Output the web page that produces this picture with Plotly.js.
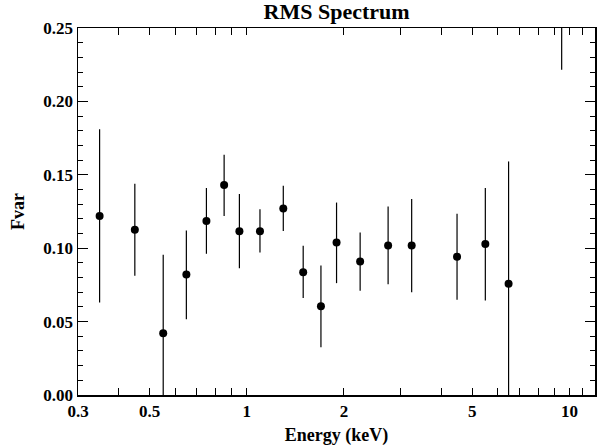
<!DOCTYPE html>
<html>
<head>
<meta charset="utf-8">
<script src="https://cdn.plot.ly/plotly-3.0.1.min.js"></script>
<style>html,body{margin:0;padding:0;background:#fff;}#chart{width:601px;height:446px;}</style>
</head>
<body>
<div id="chart"></div>
<script>
const energy = [0.35, 0.45, 0.551, 0.65, 0.75, 0.851, 0.949, 1.099, 1.298, 1.496, 1.698, 1.898, 2.246, 2.742, 3.244, 4.484, 5.487, 6.477, 9.46];
const fvar = [0.122, 0.1125, 0.042, 0.082, 0.1185, 0.143, 0.1116, 0.1116, 0.127, 0.0837, 0.0605, 0.1039, 0.0909, 0.1019, 0.1019, 0.0941, 0.1028, 0.0757, 0.30];
const errUp = [0.059, 0.0314, 0.0535, 0.030, 0.0225, 0.0207, 0.0254, 0.015, 0.0155, 0.0179, 0.0277, 0.0272, 0.0198, 0.0265, 0.0316, 0.0293, 0.0382, 0.0834, 0.08];
const errDown = [0.059, 0.0313, 0.0535, 0.0304, 0.0223, 0.021, 0.0252, 0.0146, 0.0152, 0.0177, 0.028, 0.0277, 0.0198, 0.0264, 0.0319, 0.0293, 0.0385, 0.0834, 0.0784];
const xMajorTicks = [0.3, 0.5, 1, 2, 5, 10];
const xMajorLabels = ['0.3', '0.5', '1', '2', '5', '10'];
const xMinorTicks = [0.4, 0.6, 0.7, 0.8, 0.9, 3, 4, 6, 7, 8, 9, 11];

const serif = 'Liberation Serif, Times New Roman, serif';

const trace = {
  x: energy, y: fvar, type: 'scatter', mode: 'markers',
  marker: {color: '#000', size: 8},
  error_y: {type: 'data', symmetric: false, array: errUp, arrayminus: errDown, color: '#000', thickness: 1.2, width: 0},
  cliponaxis: true, showlegend: false
};

const layout = {
  width: 601, height: 446,
  margin: {l: 78, r: 6, t: 28, b: 51},
  paper_bgcolor: '#fff', plot_bgcolor: '#fff',
  font: {family: serif, color: '#000'},
  title: {text: 'RMS Spectrum', font: {family: serif, size: 22, weight: 'bold', color: '#000'},
          x: 0.56, xanchor: 'center', y: 0.975, yanchor: 'middle'},
  xaxis: {
    type: 'log', range: [Math.log10(0.3), Math.log10(12)],
    tickmode: 'array', tickvals: xMajorTicks, ticktext: xMajorLabels,
    ticks: 'inside', ticklen: 7, tickwidth: 1, tickcolor: '#000',
    minor: {tickmode: 'array', tickvals: xMinorTicks, ticks: 'inside', ticklen: 7, tickwidth: 1, tickcolor: '#000'},
    showline: true, linecolor: '#000', linewidth: 1.5, mirror: 'allticks',
    showgrid: false, zeroline: false,
    tickfont: {family: serif, size: 17, weight: 'bold', color: '#000'},
    title: {text: 'Energy (keV)', font: {family: serif, size: 18, weight: 'bold', color: '#000'}, standoff: 9}
  },
  yaxis: {
    range: [0, 0.25], tickmode: 'linear', tick0: 0, dtick: 0.05, tickformat: '.2f',
    ticks: 'inside', ticklen: 10, tickwidth: 1, tickcolor: '#000',
    minor: {dtick: 0.01, ticks: 'inside', ticklen: 5, tickwidth: 1, tickcolor: '#000'},
    showline: true, linecolor: '#000', linewidth: 1.5, mirror: 'allticks',
    showgrid: false, zeroline: false,
    tickfont: {family: serif, size: 17, weight: 'bold', color: '#000'},
    title: {text: 'Fvar', font: {family: serif, size: 18, weight: 'bold', color: '#000'}, standoff: 14}
  }
};

Plotly.newPlot('chart', [trace], layout, {staticPlot: true, displayModeBar: false});
</script>
</body>
</html>
